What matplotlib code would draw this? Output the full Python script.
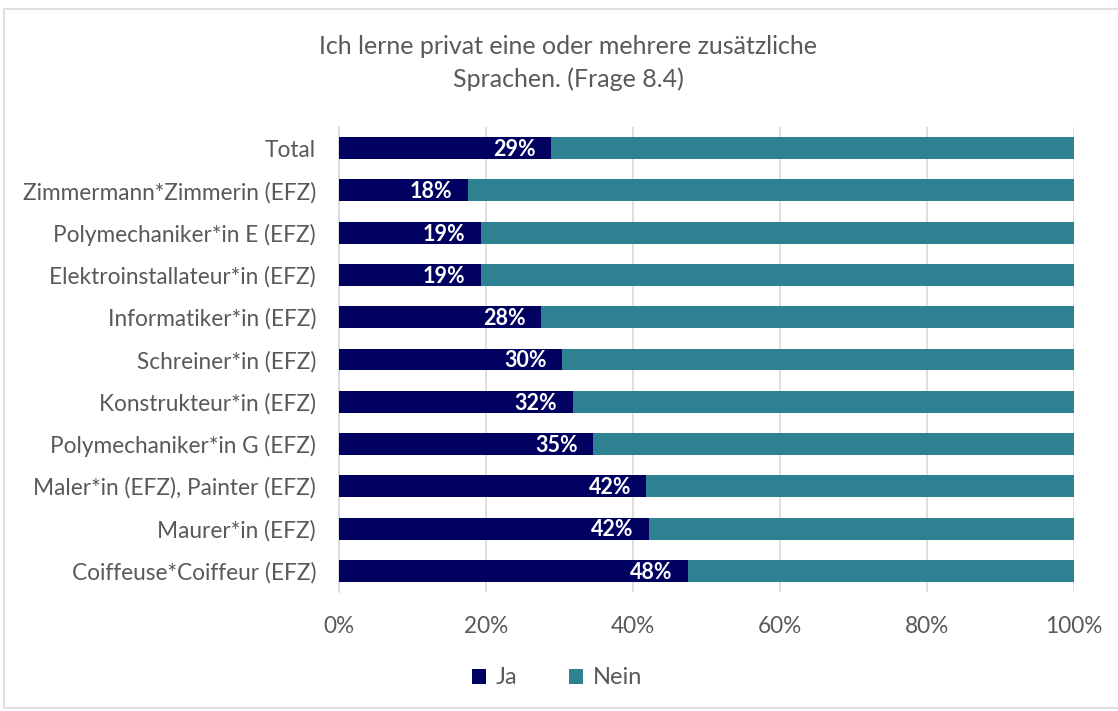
import matplotlib.pyplot as plt
from matplotlib.patches import Rectangle

# Werte aus dem Diagramm (Anteil "Ja" in %)
berufe = ["Total", "Zimmermann*Zimmerin (EFZ)", "Polymechaniker*in E (EFZ)",
          "Elektroinstallateur*in (EFZ)", "Informatiker*in (EFZ)", "Schreiner*in (EFZ)",
          "Konstrukteur*in (EFZ)", "Polymechaniker*in G (EFZ)",
          "Maler*in (EFZ), Painter (EFZ)", "Maurer*in (EFZ)", "Coiffeuse*Coiffeur (EFZ)"]
ja = [28.8, 17.5, 19.3, 19.3, 27.5, 30.3, 31.8, 34.6, 41.8, 42.2, 47.5]
ja_labels = ["29%", "18%", "19%", "19%", "28%", "30%", "32%", "35%", "42%", "42%", "48%"]
nein = [100 - v for v in ja]
xticks = [0, 20, 40, 60, 80, 100]

c_ja = "#000060"
c_nein = "#2E8191"
grau = "#595959"

plt.rcParams['font.family'] = ['Lato', 'DejaVu Sans']

fig = plt.figure(figsize=(11.18, 7.11), dpi=100)
ax = fig.add_axes([339/1118, 1-592/711, (1074-339)/1118, (592-127)/711])

pos = list(range(len(berufe)))
ax.barh(pos, ja, height=0.52, color=c_ja, label="Ja", zorder=3)
ax.barh(pos, nein, left=ja, height=0.52, color=c_nein, label="Nein", zorder=3)

for p, v, t in zip(pos, ja, ja_labels):
    ax.annotate(t, (v, p), xytext=(-11, -1), textcoords="offset points",
                ha="right", va="center", color="white", fontsize=15.5,
                fontweight="bold", zorder=4)

ax.set_ylim(10.5, -0.5)
ax.set_xlim(0, 100)
ax.set_yticks(pos)
ax.set_yticklabels(berufe, fontsize=16.3, color=grau)
ax.set_xticks(xticks)
ax.set_xticklabels([f"{x}%" for x in xticks], fontsize=16.3, color=grau)
ax.tick_params(axis="both", length=0)
ax.tick_params(axis="x", pad=17)
ax.tick_params(axis="y", pad=16.5)
ax.grid(axis="x", color="#D9D9D9", linewidth=1.2, zorder=0)
for s in ["top", "right", "bottom"]:
    ax.spines[s].set_visible(False)
ax.spines["left"].set_color("#D9D9D9")
ax.spines["left"].set_linewidth(1.2)

fig.text(568/1118, 1-63/711, "Ich lerne privat eine oder mehrere zusätzliche\nSprachen. (Frage 8.4)",
         ha="center", va="center", fontsize=18, color=grau, linespacing=1.45)

leg = fig.legend(loc="center", bbox_to_anchor=(557/1118, 1-678/711), ncol=2, frameon=False,
                 fontsize=17, handlelength=0.6, handleheight=0.6, columnspacing=2.2,
                 handletextpad=0.4)
for t in leg.get_texts():
    t.set_color(grau)

fig.patches.append(Rectangle((4/1118, 0.004), 1.2, 1-9/711-0.004, transform=fig.transFigure,
                             fill=False, edgecolor="#D9D9D9", linewidth=1.2))

fig.savefig("out.png", dpi=100)
